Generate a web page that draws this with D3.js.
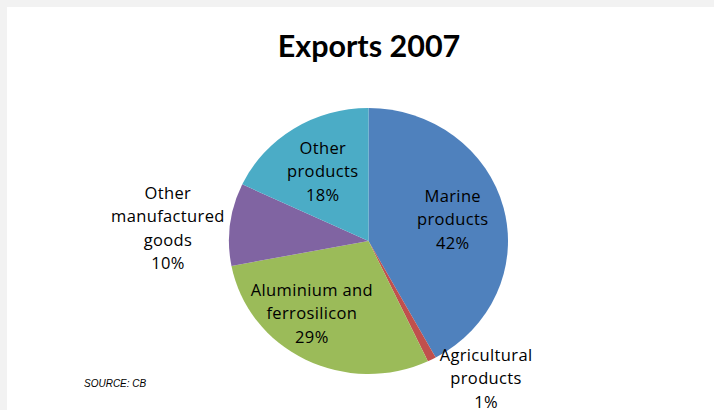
<!DOCTYPE html>
<html>
<head>
<meta charset="utf-8">
<script src="https://cdn.jsdelivr.net/npm/d3@7"></script>
<style>
  html, body { margin: 0; padding: 0; background: #f2f2f2; }
  svg { display: block; }
</style>
</head>
<body>
<svg id="chart" width="714" height="410"></svg>
<script>
// Export shares, 2007 (percent), clockwise from 12 o'clock
const categories = ["Marine products", "Agricultural products", "Aluminium and ferrosilicon", "Other manufactured goods", "Other products"];
const shares = [42, 1, 29, 10, 18];
const colors = ["#4F81BD", "#C0504D", "#9BBB59", "#8064A2", "#4BACC6"];
// label text, one line per entry
const labelLines = [
  ["Marine", "products"],
  ["Agricultural", "products"],
  ["Aluminium and", "ferrosilicon"],
  ["Other", "manufactured", "goods"],
  ["Other", "products"]
];

const svg = d3.select("#chart");
const W = 714, H = 410;

// white plot card with a thin grey frame at top/left
svg.append("rect").attr("x", 7).attr("y", 7).attr("width", W - 7).attr("height", H - 7).attr("fill", "#ffffff");

svg.append("text")
  .attr("x", 369).attr("y", 57)
  .attr("text-anchor", "middle")
  .attr("font-family", "Lato, 'Open Sans', sans-serif")
  .attr("font-weight", "bold")
  .attr("font-size", 30.5)
  .attr("fill", "#000")
  .text("Exports 2007");

const cx = 368.5, cy = 241, R = 139.5, squash = 133 / 139.5;

const pie = d3.pie().sort(null).value(d => d.v);
const data = categories.map((c, i) => ({ name: c, v: shares[i], color: colors[i], lines: labelLines[i] }));
const arcs = pie(data);
const arc = d3.arc().innerRadius(0).outerRadius(R);

const g = svg.append("g").attr("transform", `translate(${cx},${cy}) scale(1,${squash})`);
g.selectAll("path").data(arcs).enter().append("path")
  .attr("d", arc)
  .attr("fill", d => d.data.color);

// label anchor: polar offset from centre (degrees from mid-angle, radius)
const placement = [
  { da: 0, r: 87 },
  { da: -13.5, r: 181 },
  { da: 11, r: 92 },
  { da: -3.5, r: 201 },
  { da: -1, r: 83 }
];
const lh = 23.5;
const lg = svg.append("g")
  .attr("font-family", "'Open Sans', Lato, sans-serif")
  .attr("font-size", 16.5)
  .attr("letter-spacing", 0.35)
  .attr("fill", "#000")
  .attr("text-anchor", "middle");

arcs.forEach((a, i) => {
  const mid = (a.startAngle + a.endAngle) / 2 + placement[i].da * Math.PI / 180;
  const x = cx + placement[i].r * Math.sin(mid);
  const y = cy - placement[i].r * Math.cos(mid);
  const lines = a.data.lines.concat([a.data.v + "%"]);
  const top = y - (lines.length - 1) * lh / 2;
  const t = lg.append("text");
  lines.forEach((ln, k) => {
    t.append("tspan").attr("x", x).attr("y", top + k * lh).attr("dy", "0.35em").text(ln);
  });
});

svg.append("text")
  .attr("x", 84).attr("y", 387)
  .attr("font-family", "'Liberation Sans', Arial, sans-serif")
  .attr("font-style", "italic")
  .attr("font-size", 10)
  .attr("fill", "#000")
  .text("SOURCE: CB");
</script>
</body>
</html>
